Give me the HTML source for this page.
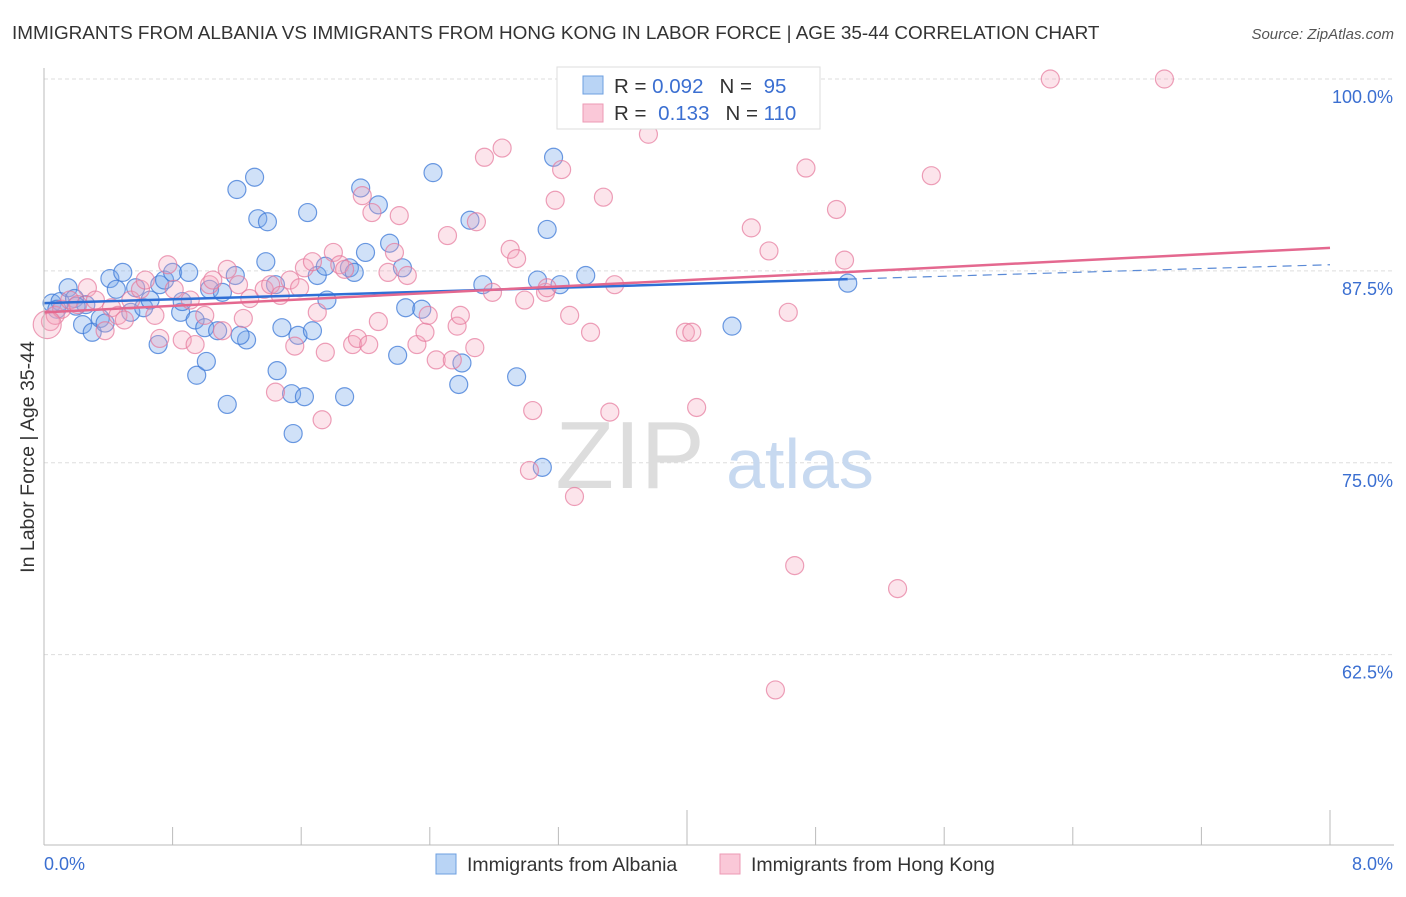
<!DOCTYPE html>
<html><head><meta charset="utf-8"><style>
body{margin:0;background:#fff;font-family:"Liberation Sans",sans-serif}
svg text{font-family:"Liberation Sans",sans-serif}
</style></head><body>
<svg width="1406" height="892" viewBox="0 0 1406 892">
<text x="12" y="39" font-size="18.9" fill="#333">IMMIGRANTS FROM ALBANIA VS IMMIGRANTS FROM HONG KONG IN LABOR FORCE | AGE 35-44 CORRELATION CHART</text>
<text x="1394" y="39" font-size="15" fill="#555" font-style="italic" text-anchor="end">Source: ZipAtlas.com</text>
<g id="grid"></g>
<text x="630" y="488" font-size="96" fill="#ddd" font-family="Liberation Serif" text-anchor="middle">ZIP</text>
<text x="800" y="488" font-size="70" fill="#c7d9f0" text-anchor="middle">atlas</text>
<g id="pts"></g>
<g id="trend"></g>
<g id="axes"></g>
<text transform="translate(34,457) rotate(-90)" font-size="19.5" fill="#333" text-anchor="middle">In Labor Force | Age 35-44</text>
<g>
<rect x="557" y="67" width="263" height="62" fill="#fff" stroke="#ddd"/>
<rect x="583" y="76" width="20" height="18" fill="#b9d4f5" stroke="#6d9fe0"/>
<rect x="583" y="104" width="20" height="18" fill="#fac8d8" stroke="#ec9ab4"/>
<text x="614" y="93" font-size="20.5" fill="#333">R = <tspan fill="#3b6fd1">0.092</tspan><tspan dx="16">N = </tspan><tspan dx="6" fill="#3b6fd1">95</tspan></text>
<text x="614" y="120" font-size="20.5" fill="#333">R = <tspan dx="6" fill="#3b6fd1">0.133</tspan><tspan dx="16">N = </tspan><tspan fill="#3b6fd1">110</tspan></text>
</g>
<g>
<rect x="436" y="854" width="20" height="20" fill="#b9d4f5" stroke="#6d9fe0"/>
<text x="467" y="871" font-size="19.5" fill="#333">Immigrants from Albania</text>
<rect x="720" y="854" width="20" height="20" fill="#fac8d8" stroke="#ec9ab4"/>
<text x="751" y="871" font-size="19.5" fill="#333">Immigrants from Hong Kong</text>
</g>
</svg>
<script>
const yTicks=[100,87.5,75,62.5];
const yTickLabels=["100.0%","87.5%","75.0%","62.5%"];
const xTickLabels=["0.0%","8.0%"];
const albaniaX=[0.05,0.10,0.15,0.19,0.24,0.26,0.30,0.35,0.38,0.41,0.45,0.49,0.54,0.57,0.62,0.66,0.71,0.72,0.75,0.80,0.85,0.86,0.90,0.94,0.95,1.00,1.01,1.03,1.08,1.11,1.14,1.19,1.20,1.26,1.31,1.33,1.39,1.38,1.44,1.45,1.48,1.54,1.55,1.58,1.62,1.64,1.67,1.70,1.75,1.76,1.87,1.90,1.93,1.97,2.00,2.08,2.15,2.20,2.23,2.25,2.35,2.42,2.58,2.60,2.65,2.73,2.94,3.07,3.10,3.13,3.17,3.21,3.37,4.28,5.00,1.22,0.08,0.2];
const albaniaY=[85.4,85.5,86.4,85.7,84.0,85.3,83.5,84.4,84.1,87.0,86.3,87.4,84.8,86.4,85.1,85.6,82.7,86.6,86.9,87.4,84.8,85.5,87.4,84.3,80.7,83.8,81.6,86.3,83.6,86.1,78.8,87.2,92.8,83.0,93.6,90.9,90.7,88.1,86.6,81.0,83.8,79.5,76.9,83.3,79.3,91.3,83.6,87.2,87.8,85.6,79.3,87.7,87.4,92.9,88.7,91.8,89.3,82.0,87.7,85.1,85.0,93.9,80.1,81.5,90.8,86.6,80.6,86.9,74.7,90.2,94.9,86.6,87.2,83.9,86.7,83.3,85.0,85.2];
const hkX=[0.04,0.07,0.11,0.16,0.21,0.27,0.32,0.38,0.42,0.46,0.50,0.54,0.60,0.63,0.69,0.72,0.77,0.81,0.86,0.91,0.94,1.00,1.03,1.05,1.11,1.14,1.21,1.24,1.28,1.37,1.41,1.44,1.47,1.53,1.56,1.59,1.62,1.67,1.70,1.73,1.75,1.80,1.84,1.87,1.92,1.95,1.98,2.02,2.04,2.08,2.14,2.18,2.21,2.26,2.32,2.37,2.39,2.44,2.51,2.54,2.57,2.59,2.68,2.69,2.74,2.79,2.85,2.90,2.94,2.99,3.02,3.04,3.12,3.13,3.18,3.22,3.27,3.30,3.40,3.48,3.52,3.55,3.76,3.78,3.99,4.03,4.06,4.40,4.51,4.63,4.67,4.74,4.93,4.98,5.31,5.52,6.26,6.97,4.55,0.02];
const hkY=[84.2,84.6,85.0,85.6,85.3,86.4,85.6,83.6,85.1,84.6,84.3,85.6,86.3,86.9,84.6,83.1,87.9,86.3,83.0,85.6,82.7,84.6,86.6,86.9,83.6,87.6,86.6,84.4,85.7,86.3,86.6,79.6,85.9,86.9,82.6,86.4,87.7,88.1,84.8,77.8,82.2,88.7,87.9,87.6,82.7,83.1,92.4,82.7,91.3,84.2,87.4,88.7,91.1,87.2,82.7,83.5,84.6,81.7,89.8,81.7,83.9,84.6,82.5,90.7,94.9,86.1,95.5,88.9,88.3,85.6,74.5,78.4,86.1,86.4,92.1,94.1,84.6,72.8,83.5,92.3,78.3,86.6,96.4,99.9,83.5,83.5,78.6,90.3,88.8,84.8,68.3,94.2,91.5,88.2,66.8,93.7,100,100,60.2,84.0];
const blueTrend=[85.4,87.9];
const pinkTrend=[84.8,89.0];
const NS="http://www.w3.org/2000/svg";
const X=v=>44+v/8*1286, Y=v=>79+(100-v)*15.35;
function mk(t,a,p){const e=document.createElementNS(NS,t);for(const k in a)e.setAttribute(k,a[k]);document.getElementById(p).appendChild(e);return e;}
yTicks.forEach((t,i)=>{
 const l=mk('line',{x1:44,x2:1394,y1:Y(t),y2:Y(t),stroke:'#ddd','stroke-dasharray':'4,3'},'grid');
 
 
 const tx=mk('text',{x:1393,y:Y(t)+24,'font-size':18,fill:'#3b6fd1','text-anchor':'end'},'axes');
 tx.textContent=yTickLabels[i];
 
 
});
mk('line',{x1:44,x2:44,y1:68,y2:845,stroke:'#bbb'},'axes');
mk('line',{x1:44,x2:1394,y1:845,y2:845,stroke:'#bbb'},'axes');
for(let i=0;i<=10;i++){const x=44+i*128.6;mk('line',{x1:x,x2:x,y1:(i==5||i==10)?810:827,y2:845,stroke:'#bbb'},'axes');}
[[0,58,'start'],[1,1393,'end']].forEach(([i,x,a])=>{const t=mk('text',{x:x+(i?0:-14),y:870,'font-size':18,fill:'#3b6fd1','text-anchor':a},'axes');t.textContent=xTickLabels[i];
 
 });
albaniaX.forEach((v,i)=>{const c=mk('circle',{cx:X(v),cy:Y(albaniaY[i]),r:9,fill:'rgba(120,170,235,0.35)',stroke:'rgba(60,120,215,0.75)','stroke-width':1.2},'pts');
 
 });
hkX.forEach((v,i)=>{const c=mk('circle',{cx:X(v),cy:Y(hkY[i]),r:i==hkX.length-1?14:9,fill:'rgba(245,165,190,0.3)',stroke:'rgba(230,120,155,0.7)','stroke-width':1.2},'pts');
 
 });
const bAt=x=>blueTrend[0]+(blueTrend[1]-blueTrend[0])*x/8;
let l=mk('line',{x1:X(0),y1:Y(bAt(0)),x2:X(5),y2:Y(bAt(5)),stroke:'#2f6fd6','stroke-width':2.5},'trend');


l=mk('line',{x1:X(5),y1:Y(bAt(5)),x2:X(8),y2:Y(bAt(8)),stroke:'#5a8ad6','stroke-width':1.2,'stroke-dasharray':'9,6'},'trend');


l=mk('line',{x1:X(0),y1:Y(pinkTrend[0]),x2:X(8),y2:Y(pinkTrend[1]),stroke:'#e4688f','stroke-width':2.5},'trend');


</script>
</body></html>
